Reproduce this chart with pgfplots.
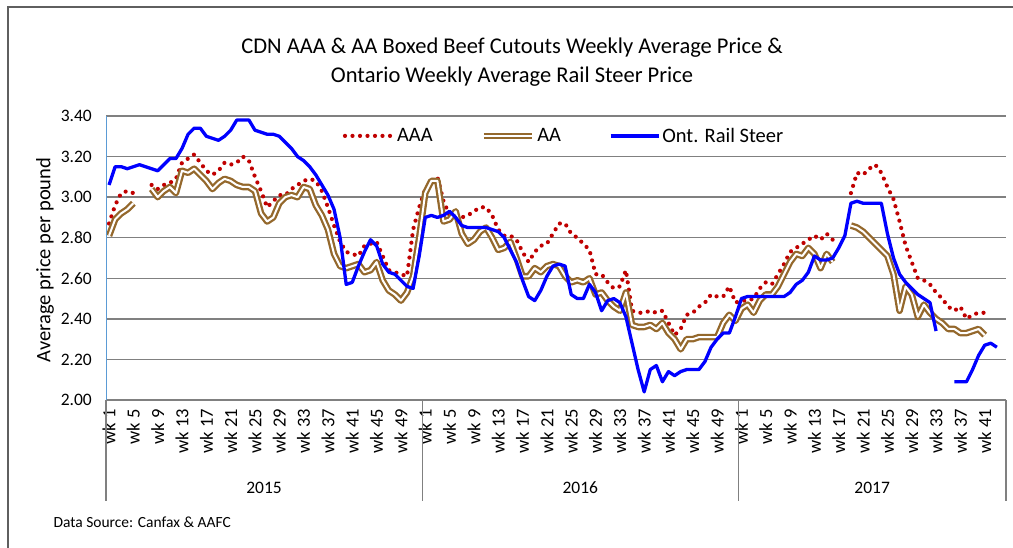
\documentclass[border=0pt]{standalone}
\usepackage{fontspec}
\setmainfont{Carlito}
\usepackage{pgfplots}
\usepackage{pgfplotstable}
\pgfplotsset{compat=1.18}
\definecolor{aaared}{RGB}{192,0,0}
\definecolor{aabrown}{RGB}{148,104,44}
\definecolor{railblue}{RGB}{0,0,255}
\definecolor{gridgray}{RGB}{128,128,128}
\definecolor{axblue}{RGB}{91,155,213}
\definecolor{framegray}{RGB}{95,95,95}

\pgfplotstableread{
i aaa aa rail
1 2.87 2.81 3.06
2 2.96 2.89 3.15
3 3.02 2.92 3.15
4 3.03 2.94 3.14
5 3.02 2.97 3.15
6 nan nan 3.16
7 nan nan 3.15
8 3.06 3.04 3.14
9 3.04 3.00 3.13
10 3.06 3.03 3.16
11 3.07 3.05 3.19
12 3.09 3.02 3.19
13 3.17 3.13 3.24
14 3.19 3.12 3.31
15 3.21 3.14 3.34
16 3.17 3.11 3.34
17 3.13 3.08 3.30
18 3.11 3.04 3.29
19 3.13 3.07 3.28
20 3.17 3.09 3.30
21 3.16 3.08 3.33
22 3.17 3.06 3.38
23 3.20 3.05 3.38
24 3.18 3.05 3.38
25 3.10 3.03 3.33
26 3.03 2.92 3.32
27 2.95 2.88 3.31
28 2.98 2.90 3.31
29 3.01 2.97 3.30
30 3.01 3.00 3.27
31 3.04 3.01 3.24
32 3.06 3.00 3.20
33 3.08 3.05 3.18
34 3.09 3.04 3.15
35 3.08 2.96 3.11
36 3.03 2.91 3.06
37 2.95 2.84 3.01
38 2.86 2.72 2.94
39 2.78 2.66 2.80
40 2.73 2.65 2.57
41 2.72 2.66 2.58
42 2.71 2.67 2.66
43 2.76 2.63 2.73
44 2.77 2.64 2.79
45 2.78 2.68 2.76
46 2.71 2.59 2.67
47 2.64 2.54 2.63
48 2.63 2.52 2.62
49 2.62 2.49 2.59
50 2.61 2.53 2.56
51 2.84 2.61 2.55
52 2.95 2.80 2.71
53 3.04 3.02 2.90
54 3.08 3.08 2.91
55 3.10 3.08 2.90
56 2.98 2.88 2.91
57 2.91 2.89 2.93
58 2.90 2.93 2.90
59 2.90 2.82 2.86
60 2.91 2.77 2.85
61 2.93 2.79 2.85
62 2.95 2.83 2.85
63 2.95 2.85 2.85
64 2.91 2.80 2.84
65 2.84 2.74 2.83
66 2.81 2.75 2.80
67 2.81 2.78 2.74
68 2.79 2.70 2.68
69 2.73 2.61 2.59
70 2.68 2.61 2.51
71 2.73 2.65 2.49
72 2.76 2.63 2.54
73 2.77 2.66 2.61
74 2.82 2.67 2.66
75 2.87 2.66 2.67
76 2.87 2.61 2.66
77 2.82 2.58 2.52
78 2.80 2.59 2.50
79 2.77 2.58 2.50
80 2.74 2.60 2.57
81 2.62 2.52 2.53
82 2.62 2.53 2.44
83 2.58 2.49 2.49
84 2.55 2.46 2.50
85 2.56 2.44 2.48
86 2.64 2.53 2.41
87 2.44 2.37 2.28
88 2.43 2.36 2.15
89 2.43 2.36 2.04
90 2.44 2.37 2.15
91 2.43 2.35 2.17
92 2.44 2.38 2.09
93 2.38 2.33 2.14
94 2.32 2.30 2.12
95 2.35 2.25 2.14
96 2.42 2.30 2.15
97 2.43 2.30 2.15
98 2.46 2.31 2.15
99 2.48 2.31 2.19
100 2.52 2.31 2.26
101 2.51 2.31 2.30
102 2.51 2.38 2.33
103 2.56 2.42 2.33
104 2.48 2.39 2.41
105 2.49 2.45 2.50
106 2.49 2.47 2.51
107 2.50 2.43 2.51
108 2.55 2.49 2.51
109 2.58 2.52 2.51
110 2.57 2.52 2.51
111 2.62 2.56 2.51
112 2.67 2.62 2.51
113 2.73 2.68 2.53
114 2.75 2.72 2.57
115 2.77 2.71 2.59
116 2.79 2.75 2.63
117 2.81 2.72 2.71
118 2.79 2.65 2.69
119 2.82 2.72 2.69
120 2.79 2.68 2.70
121 nan nan 2.75
122 nan nan 2.81
123 3.02 2.86 2.97
124 3.12 2.85 2.98
125 3.11 2.83 2.97
126 3.14 2.80 2.97
127 3.16 2.77 2.97
128 3.12 2.74 2.97
129 3.05 2.71 2.82
130 2.99 2.62 2.70
131 2.88 2.44 2.62
132 2.76 2.56 2.58
133 2.68 2.52 2.55
134 2.60 2.41 2.52
135 2.59 2.47 2.50
136 2.57 2.43 2.48
137 2.53 2.40 2.34
138 2.50 2.38 nan
139 2.46 2.35 nan
140 2.44 2.35 2.09
141 2.46 2.33 2.09
142 2.40 2.33 2.09
143 2.42 2.34 2.15
144 2.43 2.35 2.22
145 2.43 2.32 2.27
146 nan nan 2.28
147 nan nan 2.26
148 nan nan nan
}\data

\begin{document}
\begin{tikzpicture}[x=1pt,y=1pt]
\draw[framegray, line width=2pt] (8,0) -- (8,541) -- (1013,541);
\node[anchor=base, font=\fontsize{22.5}{27}\selectfont] at (512,494) {CDN AAA \& AA Boxed Beef Cutouts Weekly Average Price \&};
\node[anchor=base, font=\fontsize{22.5}{27}\selectfont] at (512,465) {Ontario Weekly Average Rail Steer Price};
\node[rotate=90, font=\fontsize{20.5}{24}\selectfont] at (45,288) {Average price per pound};
\node[anchor=base west, font=\fontsize{15.5}{18}\selectfont] at (50,20) {Data Source: Canfax \& AAFC};
\begin{axis}[
  at={(106pt,148pt)}, anchor=south west,
  scale only axis, width=900pt, height=284pt,
  xmin=0.5, xmax=148.5, ymin=2, ymax=3.4,
  axis line style={draw=none},
  clip=false,
  unbounded coords=jump,
  no markers,
  ytick={2,2.2,2.4,2.6,2.8,3.0,3.2,3.4},
  ymajorgrids,
  grid style={gridgray, line width=1.4pt},
  major tick length=0pt,
  /pgf/number format/fixed,
  /pgf/number format/fixed zerofill,
  /pgf/number format/precision=2,
  /pgf/number format/assume math mode=true,
  yticklabel style={font=\fontsize{17.5}{20}\selectfont, inner sep=0pt, anchor=east},
  yticklabel shift=14pt,
  xtick={1,5,9,13,17,21,25,29,33,37,41,45,49,53,57,61,65,69,73,77,81,85,89,93,97,101,105,109,113,117,121,125,129,133,137,141,145},
  xticklabels={wk 1,wk 5,wk 9,wk 13,wk 17,wk 21,wk 25,wk 29,wk 33,wk 37,wk 41,wk 45,wk 49,wk 1,wk 5,wk 9,wk 13,wk 17,wk 21,wk 25,wk 29,wk 33,wk 37,wk 41,wk 45,wk 49,wk 1,wk 5,wk 9,wk 13,wk 17,wk 21,wk 25,wk 29,wk 33,wk 37,wk 41},
  xticklabel style={rotate=90, anchor=east, inner sep=0pt, font=\fontsize{18.5}{20}\selectfont},
  xticklabel shift=9pt,
  legend columns=3,
  legend style={at={(0.263,0.93)}, anchor=west, draw=none, fill=none, inner sep=0pt,
    font=\fontsize{20.5}{24}\selectfont,
    /tikz/every even column/.append style={column sep=46pt}},
  legend cell align=left,
  legend image code/.code={\draw[#1] (0pt,0pt) -- (48pt,0pt);},
]
\addplot[aaared, line width=4.2pt, line cap=round, dash pattern=on 0pt off 7.5pt] table[x=i,y=aaa]{\data};
\addlegendentry{AAA}
\addplot[aabrown, line width=2.3pt, double=white, double distance=2pt, line join=round] table[x=i,y=aa]{\data};
\addlegendentry{AA\hspace{3pt}}
\addplot[railblue, line width=3.3pt, line join=round] table[x=i,y=rail]{\data};
\addlegendentry{Ont. Rail Steer}
\draw[gridgray, line width=1.4pt] (axis cs:0.5,2) -- (axis cs:148.5,2);
\draw[axblue, line width=1pt] (axis cs:0.5,2) -- (axis cs:0.5,3.4);
\draw[gridgray, line width=1.3pt] (axis cs:0.5,2) -- (axis cs:0.5,1.5025);
\draw[gridgray, line width=1.3pt] (axis cs:52.5,2) -- (axis cs:52.5,1.5025);
\draw[gridgray, line width=1.3pt] (axis cs:104.5,2) -- (axis cs:104.5,1.5025);
\draw[gridgray, line width=1.3pt] (axis cs:148.5,2) -- (axis cs:148.5,1.5025);
\node[font=\fontsize{17.5}{20}\selectfont] at (axis cs:26.5,1.567) {2015};
\node[font=\fontsize{17.5}{20}\selectfont] at (axis cs:78.5,1.567) {2016};
\node[font=\fontsize{17.5}{20}\selectfont] at (axis cs:126.5,1.567) {2017};
\end{axis}
\pgfresetboundingbox
\path[use as bounding box] (0,0) rectangle (1013,548);
\end{tikzpicture}
\end{document}
